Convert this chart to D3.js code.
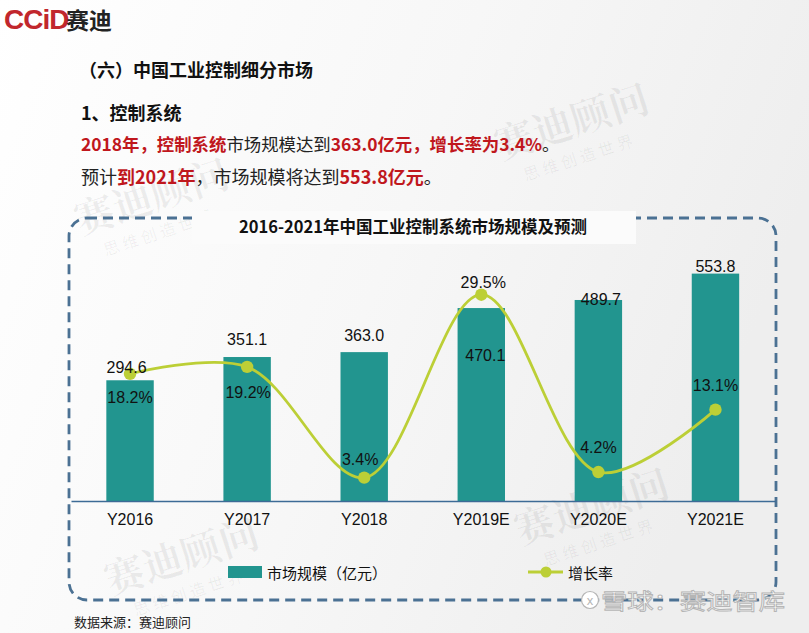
<!DOCTYPE html>
<html>
<head>
<meta charset="utf-8">
<script src="https://cdn.jsdelivr.net/npm/d3@7"></script>
<style>
  html, body { margin: 0; padding: 0; background: #fff; }
  svg { display: block; }
</style>
</head>
<body>
<svg id="chart" width="809" height="633"></svg>
<script>
// ---------- data ----------
const categories = ["Y2016", "Y2017", "Y2018", "Y2019E", "Y2020E", "Y2021E"];
const marketSize = [294.6, 351.1, 363.0, 470.1, 489.7, 553.8];   // 亿元
const growthRate = [18.2, 19.2, 3.4, 29.5, 4.2, 13.1];            // %
const seriesNames = ["市场规模（亿元）", "增长率"];
const chartTitle = "2016-2021年中国工业控制系统市场规模及预测";

// label placement (layout only)
const valueLabelDx = [-3.5, 0, 0, 4, 2.5, 0];
const valueLabelDy = [-7, -12, -11, 53, 5, -2];
const rateLabelDx = [0, 1, -4, 2, 0, 0];
const rateLabelDy = [29, 31, -13, -7, -19, -19];

// ---------- styles ----------
const CJK = "'Noto Sans CJK SC', 'Noto Sans', sans-serif";
const NUM = "'Liberation Sans', Arial, sans-serif";
const RED = "#c0171d";
const BAR = "#22958f";
const LINE = "#bccf36";
const BORDER = "#4b7193";

const svg = d3.select("#chart");

// background
const defs = svg.append("defs");
const bg = defs.append("linearGradient").attr("id", "bg")
  .attr("x1", "0").attr("y1", "0").attr("x2", "1").attr("y2", "0.3");
bg.append("stop").attr("offset", "0").attr("stop-color", "#ffffff");
bg.append("stop").attr("offset", "0.55").attr("stop-color", "#f7f7f7");
bg.append("stop").attr("offset", "1").attr("stop-color", "#eeeeee");
svg.append("rect").attr("width", 809).attr("height", 633).attr("fill", "url(#bg)");

// faint watermarks
const wm = [
  {x: 80, y: 235, r: -18, s: 40},
  {x: 500, y: 160, r: -18, s: 40},
  {x: 110, y: 595, r: -18, s: 40},
  {x: 520, y: 545, r: -18, s: 40}
];
wm.forEach(w => {
  const g = svg.append("g").attr("transform", `translate(${w.x},${w.y}) rotate(${w.r})`)
    .attr("fill", "#000").attr("fill-opacity", 0.06);
  g.append("text").text("赛迪顾问").attr("font-family", "'Noto Serif CJK SC', " + CJK)
    .attr("font-weight", "bold").attr("font-size", w.s);
  g.append("text").text("思 维 创 造 世 界").attr("y", 28).attr("x", 18)
    .attr("font-family", CJK).attr("font-size", 16);
});

// logo
svg.append("text").attr("x", 4).attr("y", 29)
  .attr("font-family", "'Liberation Sans Narrow', 'Liberation Sans', sans-serif")
  .attr("font-weight", "bold").attr("font-size", 28).attr("fill", "#c1272d")
  .attr("letter-spacing", -1).text("CCiD");
svg.append("text").attr("x", 66).attr("y", 29)
  .attr("font-family", CJK).attr("font-weight", "bold").attr("font-size", 23)
  .attr("fill", "#222").text("赛迪");

// headings
svg.append("text").attr("x", 79).attr("y", 77)
  .attr("font-family", CJK).attr("font-weight", "bold").attr("font-size", 18)
  .attr("fill", "#111").text("（六）中国工业控制细分市场");
svg.append("text").attr("x", 81).attr("y", 120)
  .attr("font-family", CJK).attr("font-weight", "bold").attr("font-size", 18)
  .attr("fill", "#111").text("1、控制系统");

function richLine(y, size, parts) {
  const t = svg.append("text").attr("x", 81).attr("y", y)
    .attr("font-family", CJK).attr("font-size", size);
  parts.forEach(p => {
    t.append("tspan").text(p[0])
      .attr("fill", p[1] ? RED : "#222")
      .attr("font-weight", p[1] ? "bold" : "normal");
  });
}
richLine(151, 17.4, [["2018年，控制系统", true], ["市场规模达到", false],
  ["363.0亿元，增长率为3.4%", true], ["。", false]]);
richLine(184, 18, [["预计", false], ["到2021年", true], ["，市场规模将达到", false],
  ["553.8亿元", true], ["。", false]]);

// dashed frame
svg.append("rect").attr("x", 69).attr("y", 218).attr("width", 707).attr("height", 382)
  .attr("rx", 18).attr("ry", 18)
  .attr("fill", "none").attr("stroke", BORDER).attr("stroke-width", 2.8)
  .attr("stroke-dasharray", "10,6");

// title box
svg.append("rect").attr("x", 192).attr("y", 211).attr("width", 444).attr("height", 33)
  .attr("fill", "#fbfbfb");
svg.append("text").attr("x", 413).attr("y", 233).attr("text-anchor", "middle")
  .attr("font-family", CJK).attr("font-weight", "bold").attr("font-size", 16.5)
  .attr("fill", "#111").text(chartTitle);

// ---------- scales ----------
const x = d3.scaleBand().domain(categories).range([71.5, 774])
  .paddingInner(0.595).paddingOuter(0.2975);
const yBar = d3.scaleLinear().domain([0, 600]).range([501.5, 254.6]);
const yRate = d3.scaleLinear().domain([0, 35]).range([501.5, 256.15]);
const cx = c => x(c) + x.bandwidth() / 2;

// bars
svg.append("g").selectAll("rect").data(marketSize).join("rect")
  .attr("x", (d, i) => x(categories[i]))
  .attr("y", d => yBar(d))
  .attr("width", x.bandwidth())
  .attr("height", d => yBar(0) - yBar(d))
  .attr("fill", BAR);

// x axis
const xAxis = svg.append("g").attr("transform", `translate(0,${yBar(0)})`)
  .call(d3.axisBottom(x).tickSize(0).tickPadding(12));
xAxis.select(".domain").attr("stroke", "#3d6b96").attr("stroke-width", 1.6)
  .attr("d", "M71.5,0H776");
xAxis.selectAll("text").attr("font-family", NUM).attr("font-size", 16).attr("fill", "#111");

// growth line
const lineGen = d3.line()
  .x((d, i) => cx(categories[i]))
  .y(d => yRate(d))
  .curve(d3.curveCatmullRom.alpha(0.5));
svg.append("path").datum(growthRate).attr("d", lineGen)
  .attr("fill", "none").attr("stroke", LINE).attr("stroke-width", 2.8);
svg.append("g").selectAll("circle").data(growthRate).join("circle")
  .attr("cx", (d, i) => cx(categories[i]))
  .attr("cy", d => yRate(d))
  .attr("r", 6.2).attr("fill", LINE);

// value labels
svg.append("g").selectAll("text").data(marketSize).join("text")
  .attr("x", (d, i) => cx(categories[i]) + valueLabelDx[i])
  .attr("y", (d, i) => yBar(d) + valueLabelDy[i])
  .attr("text-anchor", "middle")
  .attr("font-family", NUM).attr("font-size", 16).attr("fill", "#111")
  .text(d => d.toFixed(1));

svg.append("g").selectAll("text").data(growthRate).join("text")
  .attr("x", (d, i) => cx(categories[i]) + rateLabelDx[i])
  .attr("y", (d, i) => yRate(d) + rateLabelDy[i])
  .attr("text-anchor", "middle")
  .attr("font-family", NUM).attr("font-size", 16).attr("fill", "#111")
  .text(d => d.toFixed(1) + "%");

// legend
const lg = svg.append("g");
lg.append("rect").attr("x", 228).attr("y", 566).attr("width", 34).attr("height", 12).attr("fill", BAR);
lg.append("text").attr("x", 267).attr("y", 579).attr("font-family", CJK)
  .attr("font-size", 15).attr("fill", "#111").text(seriesNames[0]);
lg.append("line").attr("x1", 528).attr("x2", 563).attr("y1", 572).attr("y2", 572)
  .attr("stroke", LINE).attr("stroke-width", 2.8);
lg.append("circle").attr("cx", 546).attr("cy", 572).attr("r", 5.5).attr("fill", LINE);
lg.append("text").attr("x", 568).attr("y", 579).attr("font-family", CJK)
  .attr("font-size", 15).attr("fill", "#111").text(seriesNames[1]);

// source
svg.append("text").attr("x", 74).attr("y", 627).attr("font-family", CJK)
  .attr("font-size", 13).attr("fill", "#222").text("数据来源：赛迪顾问");

// xueqiu watermark
const xq = svg.append("g");
xq.append("circle").attr("cx", 590).attr("cy", 600).attr("r", 8.5)
  .attr("fill", "#ffffff").attr("stroke", "#b5b5b5").attr("stroke-width", 1.2);
xq.append("text").attr("x", 590).attr("y", 605).attr("text-anchor", "middle")
  .attr("font-family", NUM).attr("font-size", 13).attr("fill", "#b5b5b5").text("x");
xq.append("text").attr("x", 601).attr("y", 609).attr("font-family", CJK)
  .attr("font-size", 22).attr("textLength", 184).attr("lengthAdjust", "spacingAndGlyphs")
  .attr("fill", "#ffffff").attr("stroke", "#b5b5b5")
  .attr("stroke-width", 0.9).text("雪球：赛迪智库");
</script>
</body>
</html>
